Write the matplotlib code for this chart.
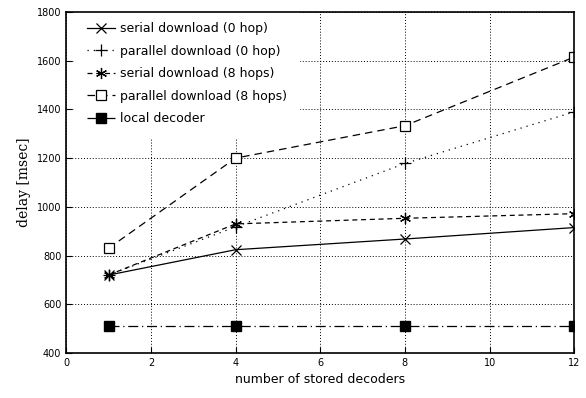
import matplotlib.pyplot as plt
import numpy as np

# 데이터
stored = [1, 4, 8, 12]
serial_0hop = [720, 824, 868, 915]
parallel_0hop = [720, 918, 1178, 1390]
serial_8hops = [720, 930, 953, 972]
parallel_8hops = [830, 1200, 1333, 1615]
local_decoder = [510, 510, 510, 510]

fig = plt.figure(figsize=(5.86, 3.98), dpi=100)
ax = fig.add_axes([0.113, 0.113, 0.867, 0.857])

ax.plot(stored, serial_0hop, color='black', linestyle='-', linewidth=0.9,
        marker='x', markersize=6.5, markeredgewidth=0.9, label='serial download (0 hop)')
ax.plot(stored, parallel_0hop, color='black', linestyle=(0, (1, 4)), linewidth=0.9,
        marker='+', markersize=8, markeredgewidth=0.9, label='parallel download (0 hop)')
ax.plot(stored, serial_8hops, color='black', linestyle=(0, (4, 3)), linewidth=0.9,
        marker=(6, 2, 0), markersize=8, markeredgewidth=0.9, label='serial download (8 hops)')
ax.plot(stored, parallel_8hops, color='black', linestyle=(0, (6, 4)), linewidth=0.9,
        marker='s', markersize=7, markerfacecolor='white', markeredgewidth=0.9,
        label='parallel download (8 hops)')
ax.plot(stored, local_decoder, color='black', linestyle=(0, (8, 3, 1, 3)), linewidth=0.9,
        marker='s', markersize=7, label='local decoder')

ax.set_xlim(0, 12)
ax.set_ylim(400, 1800)
ax.set_xticks(range(0, 13, 2))
ax.set_yticks(range(400, 1801, 200))
ax.tick_params(direction='in', labelsize=7, length=4)
ax.grid(True, color='black', linestyle=(0, (1, 2)), linewidth=0.7)
for s in ax.spines.values():
    s.set_linewidth(1.2)

ax.set_xlabel('number of stored decoders', fontsize=9)
ax.set_ylabel('delay [msec]', fontsize=10, family='DejaVu Serif')

leg = ax.legend(loc='upper left', bbox_to_anchor=(0.024, 0.995), frameon=True,
                fontsize=9, handlelength=2.2, borderaxespad=0.3, labelspacing=0.75,
                handletextpad=0.4)
leg.get_frame().set_facecolor('white')
leg.get_frame().set_edgecolor('white')
leg.get_frame().set_alpha(1)
leg.get_frame().set_boxstyle('square', pad=0.6)
leg.set_zorder(2.4)  # 테두리(spine) 아래에 두기

fig.savefig('out.png', dpi=100)
